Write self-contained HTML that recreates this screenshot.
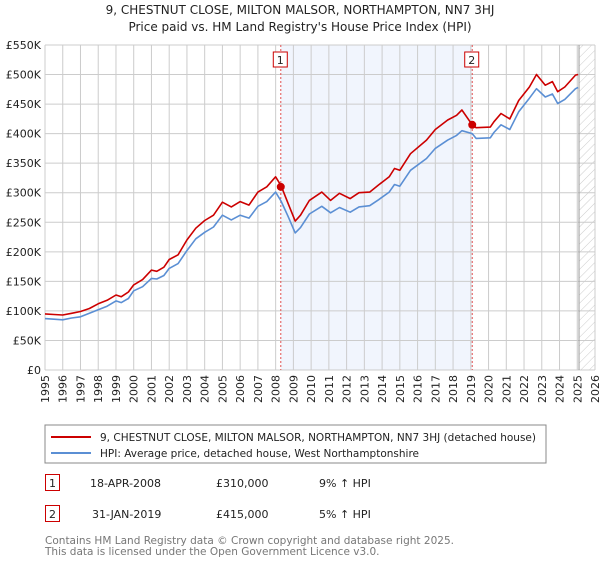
<!DOCTYPE html>
<html><head><meta charset="utf-8"><style>
body{margin:0;background:#fff;font-family:"Liberation Sans","DejaVu Sans",sans-serif;}
svg text{font-family:"DejaVu Sans","Liberation Sans",sans-serif;}
</style></head><body>
<svg id="c" width="600" height="560" xmlns="http://www.w3.org/2000/svg">
<defs><pattern id="hatch" width="6" height="6" patternUnits="userSpaceOnUse" patternTransform="rotate(45)"><line x1="0" y1="0" x2="0" y2="6" stroke="#ccc" stroke-width="1"/></pattern></defs>
<text x="300" y="14" text-anchor="middle" font-size="12" fill="#222">9, CHESTNUT CLOSE, MILTON MALSOR, NORTHAMPTON, NN7 3HJ</text>
<text x="300" y="31" text-anchor="middle" font-size="12" fill="#222">Price paid vs. HM Land Registry's House Price Index (HPI)</text>
<g id="plot"></g>
<rect x="45" y="425" width="501" height="38" fill="#fff" stroke="#888"/>
<line x1="51" y1="437" x2="91" y2="437" stroke="#cc0000" stroke-width="2"/>
<text x="100" y="441" font-size="10.5" textLength="436" lengthAdjust="spacingAndGlyphs" fill="#222">9, CHESTNUT CLOSE, MILTON MALSOR, NORTHAMPTON, NN7 3HJ (detached house)</text>
<line x1="51" y1="453" x2="91" y2="453" stroke="#5b8fd4" stroke-width="2"/>
<text x="100" y="457" font-size="10.5" fill="#222">HPI: Average price, detached house, West Northamptonshire</text>
<g>
<rect x="45.5" y="474.5" width="14" height="16" fill="#fff" stroke="#cc0000"/><text x="52.5" y="487" text-anchor="middle" font-size="11" fill="#222">1</text>
<text x="90" y="487" font-size="11" fill="#222">18-APR-2008</text><text x="216" y="487" font-size="11" fill="#222">£310,000</text><text x="319" y="487" font-size="11" fill="#222">9% ↑ HPI</text></g>
<g>
<rect x="45.5" y="505.5" width="14" height="16" fill="#fff" stroke="#cc0000"/><text x="52.5" y="518" text-anchor="middle" font-size="11" fill="#222">2</text>
<text x="92" y="518" font-size="11" fill="#222">31-JAN-2019</text><text x="216" y="518" font-size="11" fill="#222">£415,000</text><text x="319" y="518" font-size="11" fill="#222">5% ↑ HPI</text></g>
<text x="45" y="544" font-size="10.5" textLength="409" lengthAdjust="spacingAndGlyphs" fill="#777">Contains HM Land Registry data © Crown copyright and database right 2025.</text>
<text x="45" y="555" font-size="10.5" fill="#777">This data is licensed under the Open Government Licence v3.0.</text>
</svg>
<script>
const years=[1995,1995.5,1996,1996.5,1997,1997.5,1998,1998.5,1999,1999.3,1999.7,2000,2000.5,2001,2001.3,2001.7,2002,2002.5,2003,2003.5,2004,2004.5,2005,2005.5,2006,2006.5,2007,2007.5,2008,2008.3,2008.7,2009.1,2009.4,2009.9,2010.6,2011.1,2011.6,2012.2,2012.7,2013.3,2013.8,2014.4,2014.7,2015,2015.6,2016.5,2017,2017.7,2018.2,2018.5,2019.08,2019.3,2020.1,2020.3,2020.7,2021.2,2021.7,2022.3,2022.7,2023.2,2023.6,2023.9,2024.3,2024.9,2025.05];
const priceSeries=[95,94,93,96,99,104,112,118,127,124,132,144,153,169,167,174,187,195,220,240,253,262,284,276,285,279,301,310,327,312,282,252,262,287,301,287,299,290,300,301,313,327,341,338,366,389,407,423,431,440,415,410,411,420,434,425,456,479,500,482,488,471,479,499,500];
const hpiSeries=[87,86,85,88,90,96,102,108,117,114,121,134,141,155,154,160,172,180,202,222,233,242,262,254,262,257,277,285,301,286,260,232,241,264,277,266,275,267,276,278,288,301,314,311,338,358,375,389,397,405,400,392,393,402,415,407,437,460,476,462,467,451,458,476,478];
const saleDates=[2008.29,2019.08];
const salePrices=[310,415];
const saleLabels=["1","2"];
const yTicks=[0,50,100,150,200,250,300,350,400,450,500,550];
const yTickLabels=["£0","£50K","£100K","£150K","£200K","£250K","£300K","£350K","£400K","£450K","£500K","£550K"];
const xTicks=[1995,1996,1997,1998,1999,2000,2001,2002,2003,2004,2005,2006,2007,2008,2009,2010,2011,2012,2013,2014,2015,2016,2017,2018,2019,2020,2021,2022,2023,2024,2025,2026];
const dataEnd=2025.1;

const X0=45,X1=595,Y0=370,Y1=45;
const xs=y=>X0+(y-1995)/(2026-1995)*(X1-X0);
const ys=v=>Y0-v/550*(Y0-Y1);
const NS="http://www.w3.org/2000/svg";
const g=document.getElementById('plot');
function mk(t,a,p){const e=document.createElementNS(NS,t);for(const k in a)e.setAttribute(k,a[k]);(p||g).appendChild(e);return e;}
const shade=mk('rect',{x:xs(saleDates[0]),y:Y1,width:xs(saleDates[1])-xs(saleDates[0]),height:Y0-Y1,fill:'#eef3fd',opacity:0.8});


const hat=mk('rect',{x:xs(dataEnd),y:Y1,width:X1-xs(dataEnd),height:Y0-Y1,fill:'url(#hatch)'});


yTicks.forEach((v,i)=>{
 const l=mk('line',{x1:X0,x2:X1,y1:ys(v),y2:ys(v),stroke:'#ccc','stroke-width':1});
 
 
 const t=mk('text',{x:X0-4,y:ys(v)+4,'text-anchor':'end','font-size':11,fill:'#222'});
 t.textContent=yTickLabels[i];
 
 
});
xTicks.forEach(v=>{
 const l=mk('line',{x1:xs(v),x2:xs(v),y1:Y1,y2:Y0,stroke:'#ccc','stroke-width':1});
 
 
 const t=mk('text',{x:0,y:0,'text-anchor':'end','font-size':11,fill:'#222',transform:`translate(${xs(v)+4},${Y0+5}) rotate(-90)`});
 t.textContent=v;
 
 
});
const endl=mk('line',{x1:xs(dataEnd),x2:xs(dataEnd),y1:Y1,y2:Y0,stroke:'#999','stroke-width':1});


saleDates.forEach((d,i)=>{
 const l=mk('line',{x1:xs(d),x2:xs(d),y1:Y1,y2:Y0,stroke:'#e05050','stroke-width':1,'stroke-dasharray':'2,2'});
 
 
 const b=mk('rect',{x:xs(d)-7.5,y:52,width:14,height:15,fill:'#fff',stroke:'#cc0000'});
 
 
 const t=mk('text',{x:xs(d)-0.5,y:64,'text-anchor':'middle','font-size':11,fill:'#222'});
 t.textContent=saleLabels[i];
 
 
});
function line(vals,col,name){
 const p=mk('polyline',{points:years.map((y,i)=>xs(y).toFixed(1)+','+ys(vals[i]).toFixed(1)).join(' '),fill:'none',stroke:col,'stroke-width':1.6,'stroke-linejoin':'round'});
 
 
}
line(hpiSeries,'#5b8fd4','hpi-line');
line(priceSeries,'#cc0000','property-line');
saleDates.forEach((d,i)=>{
 const c=mk('circle',{cx:xs(d),cy:ys(salePrices[i]),r:4,fill:'#cc0000'});
 
 
});
</script>
</body></html>
